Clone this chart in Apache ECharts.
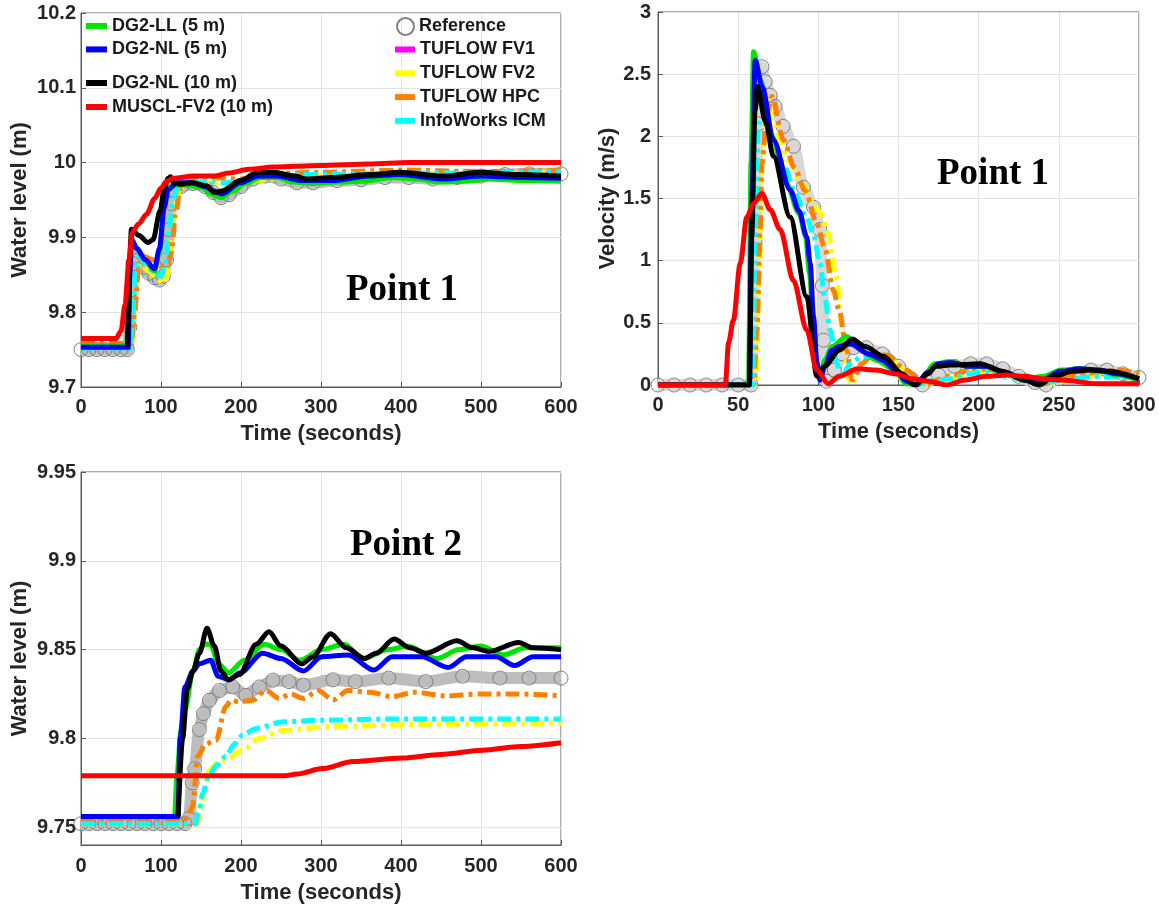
<!DOCTYPE html>
<html>
<head>
<meta charset="utf-8">
<title>Point 1 / Point 2 water level and velocity</title>
<script src="https://cdn.jsdelivr.net/npm/echarts@6/dist/echarts.min.js"></script>
<style>
    html, body { margin: 0; padding: 0; background: #fff; }
    #chart { width: 1159px; height: 911px; }
</style>
</head>
<body>
<div id="chart"></div>
<script>
// series names (legend order)
const NAMES = ['Reference', 'TUFLOW FV1', 'TUFLOW FV2', 'TUFLOW HPC', 'InfoWorks ICM',
    'DG2-LL (5 m)', 'DG2-NL (5 m)', 'DG2-NL (10 m)', 'MUSCL-FV2 (10 m)'];

// ---- Point 1, water level (m) vs time (s)
const wl1_ref = [[0, 9.75], [10, 9.75], [20, 9.75], [30, 9.75], [40, 9.75], [50, 9.75], [58, 9.75], [61, 9.78], [63, 9.83], [65, 9.865], [68, 9.875], [72, 9.87], [78, 9.86], [85, 9.852], [92, 9.846], [98, 9.843], [103, 9.848], [107, 9.87], [110, 9.91], [113, 9.945], [117, 9.962], [125, 9.968], [140, 9.972], [155, 9.968], [165, 9.96], [175, 9.953], [185, 9.957], [200, 9.968], [215, 9.978], [230, 9.982], [250, 9.978], [270, 9.973], [290, 9.973], [320, 9.976], [350, 9.977], [380, 9.98], [410, 9.98], [440, 9.978], [470, 9.98], [500, 9.982], [530, 9.984], [560, 9.985], [600, 9.985]];
const wl1_fv1 = [];
const wl1_fv2 = [[0, 9.755], [64, 9.755], [67, 9.80], [70, 9.85], [74, 9.865], [85, 9.855], [95, 9.845], [103, 9.838], [108, 9.85], [113, 9.9], [118, 9.945], [124, 9.965], [135, 9.972], [150, 9.975], [175, 9.973], [200, 9.972], [220, 9.976], [250, 9.98], [300, 9.983], [400, 9.985], [500, 9.986], [600, 9.987]];
const wl1_hpc = [[0, 9.758], [63, 9.758], [67, 9.80], [72, 9.86], [78, 9.875], [90, 9.87], [100, 9.862], [108, 9.862], [113, 9.88], [118, 9.93], [124, 9.965], [135, 9.975], [160, 9.98], [200, 9.978], [230, 9.985], [300, 9.987], [400, 9.99], [500, 9.988], [600, 9.99]];
const wl1_icm = [[0, 9.752], [62, 9.752], [65, 9.80], [68, 9.86], [72, 9.875], [80, 9.865], [90, 9.855], [100, 9.848], [105, 9.86], [110, 9.91], [115, 9.95], [120, 9.965], [135, 9.972], [160, 9.975], [180, 9.973], [210, 9.978], [240, 9.982], [280, 9.984], [350, 9.985], [450, 9.986], [600, 9.988]];
const wl1_ll5 = [[0, 9.755], [57, 9.755], [60, 9.85], [62, 9.895], [70, 9.885], [80, 9.87], [92, 9.855], [98, 9.88], [104, 9.94], [108, 9.965], [115, 9.97], [130, 9.97], [150, 9.967], [165, 9.957], [175, 9.953], [190, 9.962], [205, 9.972], [225, 9.98], [245, 9.98], [265, 9.974], [290, 9.972], [320, 9.974], [350, 9.975], [390, 9.98], [420, 9.978], [450, 9.974], [480, 9.975], [510, 9.978], [550, 9.976], [600, 9.975]];
const wl1_nl5 = [[0, 9.753], [59, 9.753], [61, 9.85], [63, 9.898], [70, 9.885], [80, 9.87], [92, 9.858], [98, 9.885], [104, 9.94], [109, 9.964], [120, 9.973], [139, 9.973], [155, 9.968], [166, 9.962], [176, 9.958], [199, 9.973], [222, 9.982], [245, 9.982], [277, 9.976], [314, 9.976], [361, 9.982], [398, 9.984], [453, 9.978], [500, 9.982], [550, 9.98], [600, 9.979]];
// flat start of this run is hidden behind the 5 m run, so it is drawn from the rise on
const wl1_nl10 = [[58, 9.754], [59.5, 9.8], [61, 9.87], [63, 9.911], [72, 9.903], [84, 9.893], [90, 9.897], [99, 9.936], [104, 9.965], [109, 9.979], [112, 9.981], [116, 9.973], [125, 9.971], [139, 9.973], [157, 9.969], [167, 9.96], [176, 9.962], [199, 9.976], [222, 9.987], [240, 9.987], [268, 9.982], [282, 9.978], [314, 9.98], [361, 9.984], [398, 9.987], [453, 9.982], [500, 9.987], [546, 9.984], [600, 9.982]];
const wl1_muscl = [[0, 9.765], [44, 9.765], [50, 9.775], [55, 9.81], [60, 9.87], [64, 9.907], [72, 9.918], [82, 9.931], [92, 9.952], [100, 9.966], [107, 9.975], [115, 9.979], [140, 9.982], [166, 9.982], [185, 9.986], [210, 9.991], [240, 9.994], [300, 9.996], [360, 9.998], [410, 10.0], [600, 10.0]];

// ---- Point 1, velocity (m/s) vs time (s)
const v1_ref = [[0, 0], [10, 0], [20, 0], [30, 0], [40, 0], [50, 0], [58, 0], [60.6, 1.14], [62.5, 2.1], [64.8, 2.56], [66.8, 2.44], [70, 2.33], [73.1, 2.24], [78, 2.08], [84.5, 1.92], [90.7, 1.59], [97, 1.43], [101, 1.25], [102.5, 0.8], [103.2, 0.36], [105, 0.03], [110, 0.12], [115, 0.25], [122, 0.3], [130, 0.3], [140, 0.25], [150, 0.15], [158, 0.05], [165, 0.0], [175, 0.08], [185, 0.15], [195, 0.17], [205, 0.17], [215, 0.13], [225, 0.07], [235, 0.02], [242, 0.0], [250, 0.05], [260, 0.09], [270, 0.12], [280, 0.12], [290, 0.09], [300, 0.06]];
const v1_fv1 = [];
const v1_fv2 = [[0, 0], [61, 0], [63, 0.8], [65, 1.8], [68, 2.3], [72, 2.1], [76, 1.97], [81, 1.81], [90, 1.62], [96, 1.48], [101.5, 1.38], [106, 1.22], [110.8, 0.9], [115.4, 0.42], [119, 0.05], [121, 0.01], [127, 0.17], [134, 0.23], [143, 0.22], [155, 0.12], [165, 0.02], [180, 0.04], [195, 0.1], [205, 0.12], [217, 0.08], [235, 0.02], [245, 0.01], [260, 0.05], [275, 0.08], [290, 0.08], [300, 0.06]];
const v1_hpc = [[0, 0], [59.6, 0], [61.7, 0.44], [63.7, 1.25], [64.8, 1.78], [67.9, 2.19], [71, 2.32], [78.3, 1.97], [85, 1.75], [92, 1.56], [99, 1.3], [104, 1.1], [109.4, 0.76], [113, 0.6], [117.7, 0.28], [121, 0.04], [127, 0.17], [134, 0.25], [143, 0.24], [154.6, 0.12], [166, 0.01], [182, 0.07], [194, 0.12], [205, 0.13], [217, 0.09], [230, 0.05], [240, 0.01], [252, 0.05], [263, 0.09], [286, 0.12], [300, 0.09]];
const v1_icm = [[0, 0], [59, 0], [60.6, 1.25], [62.7, 2.1], [66, 2.15], [72, 1.97], [78.3, 1.78], [85.4, 1.55], [92.8, 1.35], [97, 1.2], [101, 0.98], [104, 0.7], [107.4, 0.44], [111.5, 0.18], [114, 0.06], [120, 0.17], [127, 0.23], [134, 0.23], [145, 0.15], [154.6, 0.07], [164, 0.01], [173, 0.04], [182, 0.05], [194, 0.09], [205, 0.11], [217, 0.07], [230, 0.03], [240, 0.01], [251.5, 0.04], [274.6, 0.07], [300, 0.05]];
const v1_ll5 = [[0, 0], [56.5, 0], [58, 1.8], [59.6, 2.68], [64, 2.45], [71, 2.0], [80, 1.62], [88, 1.38], [92, 1.2], [94.5, 0.9], [97, 0.45], [99.5, 0.1], [101, 0.04], [104, 0.2], [108.5, 0.31], [117.7, 0.39], [127, 0.28], [136, 0.2], [147.7, 0.12], [154.6, 0.01], [161.5, 0.0], [173, 0.17], [182, 0.19], [194, 0.15], [205, 0.15], [217, 0.09], [228.5, 0.04], [240, 0.07], [251.5, 0.12], [263, 0.13], [274.6, 0.12], [286, 0.08], [300, 0.04]];
const v1_nl5 = [[0, 0], [57, 0], [58.5, 1.5], [60.6, 2.61], [65, 2.4], [72, 1.97], [82.4, 1.57], [88, 1.4], [92.8, 1.19], [94.9, 0.98], [97, 0.55], [99.1, 0.18], [101, 0.04], [104, 0.15], [108.5, 0.28], [113, 0.31], [120, 0.33], [131.5, 0.25], [140, 0.2], [148, 0.12], [155, 0.03], [161, 0.0], [168, 0.1], [175, 0.17], [182, 0.18], [194, 0.15], [205, 0.15], [217, 0.1], [228.5, 0.04], [238, 0.03], [251.5, 0.11], [263, 0.13], [275, 0.12], [286, 0.09], [300, 0.05]];
const v1_nl10 = [[0, 0], [57, 0], [58.5, 1.2], [60.5, 2.2], [62, 2.4], [67, 2.12], [72, 1.84], [82.4, 1.35], [92.8, 0.71], [99.1, 0.07], [104, 0.15], [113, 0.28], [121, 0.37], [129, 0.31], [140.8, 0.23], [152.3, 0.09], [160, 0.0], [168.5, 0.09], [173, 0.15], [182, 0.16], [200.8, 0.17], [214.6, 0.11], [228.5, 0.04], [237.7, 0.0], [247, 0.07], [258.5, 0.11], [270, 0.12], [281.5, 0.11], [300, 0.05]];
const v1_muscl = [[0, 0], [42, 0], [44, 0.34], [47, 0.52], [51.3, 0.98], [55.4, 1.35], [59.6, 1.46], [64.8, 1.54], [70, 1.41], [76.2, 1.25], [84.5, 0.84], [92.8, 0.44], [99.1, 0.12], [106.3, 0.01], [113, 0.07], [124.6, 0.13], [136, 0.12], [147.7, 0.09], [159, 0.05], [168.5, 0.03], [180, 0.0], [191.5, 0.04], [205, 0.07], [217, 0.08], [228.5, 0.07], [240, 0.05], [251.5, 0.04], [274.6, 0.01], [300, 0.01]];

// ---- Point 2, water level (m) vs time (s)
const wl2_ref = [[0, 9.752], [10, 9.752], [20, 9.752], [30, 9.752], [40, 9.752], [50, 9.752], [60, 9.752], [70, 9.752], [80, 9.752], [90, 9.752], [100, 9.752], [110, 9.752], [120, 9.752], [130, 9.752], [135, 9.755], [139, 9.775], [142, 9.783], [148, 9.805], [153, 9.814], [160.5, 9.8215], [173, 9.827], [189.7, 9.829], [206, 9.8243], [223, 9.829], [240, 9.8328], [260, 9.832], [278, 9.83], [315, 9.833], [343, 9.832], [384.6, 9.834], [431, 9.832], [477, 9.835], [523.6, 9.834], [560, 9.834], [600, 9.834]];
const wl2_fv1 = [];
const wl2_fv2 = [[0, 9.752], [145, 9.752], [150, 9.762], [155, 9.772], [160.5, 9.782], [170, 9.786], [181, 9.788], [202, 9.7934], [223, 9.8], [252, 9.8045], [315, 9.8068], [440, 9.808], [600, 9.8084]];
const wl2_hpc = [[0, 9.754], [128, 9.754], [134, 9.756], [139.6, 9.762], [145.9, 9.79], [156, 9.797], [168.8, 9.799], [181, 9.818], [187.6, 9.8215], [198, 9.8206], [214.7, 9.8215], [231, 9.827], [248, 9.8225], [262, 9.825], [278, 9.8225], [296.6, 9.827], [315, 9.8216], [333.6, 9.827], [361, 9.826], [389, 9.8235], [417, 9.826], [454, 9.824], [500, 9.825], [546.8, 9.825], [600, 9.824]];
const wl2_icm = [[0, 9.752], [143, 9.752], [147, 9.758], [152, 9.769], [160.5, 9.78], [170, 9.785], [181, 9.79], [192, 9.797], [202, 9.802], [219, 9.8056], [252, 9.8094], [300, 9.8103], [400, 9.811], [600, 9.811]];
const wl2_ll5 = [[0, 9.756], [117, 9.756], [120, 9.78], [125, 9.805], [130, 9.816], [140, 9.838], [148, 9.85], [155, 9.853], [162, 9.853], [171.5, 9.842], [185, 9.837], [204, 9.844], [229, 9.853], [250, 9.85], [273, 9.844], [301, 9.85], [329, 9.853], [352, 9.845], [384.6, 9.85], [408, 9.852], [445, 9.845], [472.6, 9.85], [500, 9.852], [528, 9.847], [556, 9.851], [600, 9.851]];
const wl2_nl5 = [[0, 9.756], [121, 9.756], [124, 9.8], [130, 9.829], [140, 9.838], [148, 9.842], [162, 9.844], [171.5, 9.835], [185, 9.833], [199, 9.837], [227, 9.848], [250, 9.845], [278, 9.838], [301, 9.846], [334, 9.847], [366, 9.8385], [389, 9.846], [426, 9.846], [459, 9.84], [482, 9.846], [519, 9.846], [542, 9.841], [565, 9.846], [600, 9.846]];
const wl2_nl10 = [[121.5, 9.756], [127, 9.8], [133, 9.828], [140, 9.838], [148, 9.848], [157.5, 9.862], [166.7, 9.852], [175, 9.838], [184, 9.833], [198, 9.836], [219, 9.853], [235, 9.86], [250, 9.852], [275.7, 9.842], [290, 9.846], [312, 9.859], [331.5, 9.851], [354.5, 9.845], [369, 9.848], [391.5, 9.856], [411, 9.851], [431, 9.848], [470, 9.855], [490, 9.851], [510, 9.849], [547, 9.854], [565, 9.851], [600, 9.85]];
const wl2_muscl = [[0, 9.779], [255, 9.779], [270, 9.78], [301.6, 9.783], [340, 9.787], [401.7, 9.789], [450, 9.791], [502, 9.7934], [550, 9.7955], [600, 9.7976]];

// tick values
const wlTicks1 = [9.7, 9.8, 9.9, 10, 10.1, 10.2];
const velTicks = [0, 0.5, 1, 1.5, 2, 2.5, 3];
const wlTicks2 = [9.75, 9.8, 9.85, 9.9, 9.95];

// line looks per series
const LOOK = {
    'Reference':        { color: '#808080' },
    'TUFLOW FV1':       { color: '#ff00ff', width: 5 },
    'TUFLOW FV2':       { color: '#ffff00', width: 5, dash: [14, 5, 4, 5] },
    'TUFLOW HPC':       { color: '#ff8000', width: 5, dash: [14, 5, 4, 5] },
    'InfoWorks ICM':    { color: '#00ffff', width: 5, dash: [14, 5, 4, 5] },
    'DG2-LL (5 m)':     { color: '#00e600', width: 5 },
    'DG2-NL (5 m)':     { color: '#0000ff', width: 5 },
    'DG2-NL (10 m)':    { color: '#000000', width: 5 },
    'MUSCL-FV2 (10 m)': { color: '#ff0000', width: 5 }
};
// grey band under the reference circles, per panel
const REF_BAND = ['#bdbdbd', '#d8d8d8', '#bdbdbd'];

const FONT = 'Liberation Sans, Arial, sans-serif';
const SERIF = 'Liberation Serif, Times New Roman, serif';

function make_series(name, data, idx) {
    const look = LOOK[name];
    if (name === 'Reference') {
        return {
            name: name, type: 'line', xAxisIndex: idx, yAxisIndex: idx, data: data, z: 1,
            symbol: 'circle', symbolSize: 14, showSymbol: true, smooth: 0.3, smoothMonotone: 'x',
            lineStyle: { color: REF_BAND[idx], width: 12 },
            itemStyle: { color: 'transparent', borderColor: look.color, borderWidth: 1 },
            silent: true, emphasis: { disabled: true }
        };
    }
    return {
        name: name, type: 'line', xAxisIndex: idx, yAxisIndex: idx, data: data, z: 2,
        symbol: 'none', smooth: 0.3, smoothMonotone: 'x',
        lineStyle: { color: look.color, width: look.width, type: look.dash || 'solid', cap: 'butt' },
        itemStyle: { color: look.color },
        silent: true, emphasis: { disabled: true }
    };
}

function tick_text(v) {
    return String(Math.round(v * 100) / 100);
}

function make_x(idx, max, interval, gap, margin) {
    return {
        type: 'value', gridIndex: idx, min: 0, max: max, interval: interval,
        name: 'Time (seconds)', nameLocation: 'middle', nameGap: gap,
        nameTextStyle: { fontSize: 22, fontWeight: 'bold', color: '#262626', fontFamily: FONT },
        axisLine: { onZero: false, lineStyle: { color: '#5a5a5a', width: 1 } },
        axisTick: { inside: true, length: 5, lineStyle: { color: '#5a5a5a' } },
        axisLabel: { fontSize: 20, fontWeight: 'bold', color: '#262626', fontFamily: FONT, margin: margin, formatter: tick_text },
        splitLine: { show: true, lineStyle: { color: '#e3e3e3', width: 1 } }
    };
}

function make_y(idx, name, min, max, ticks, gap, margin) {
    const axis = {
        type: 'value', gridIndex: idx, min: min, max: max,
        name: name, nameLocation: 'middle', nameGap: gap,
        nameTextStyle: { fontSize: 22, fontWeight: 'bold', color: '#262626', fontFamily: FONT },
        axisLine: { show: true, onZero: false, lineStyle: { color: '#5a5a5a', width: 1 } },
        axisTick: { show: true, inside: true, length: 5, lineStyle: { color: '#5a5a5a' } },
        axisLabel: { fontSize: 20, fontWeight: 'bold', color: '#262626', fontFamily: FONT, margin: margin, formatter: tick_text },
        splitLine: { show: true, lineStyle: { color: '#e3e3e3', width: 1 } }
    };
    if (min === ticks[0]) {
        axis.interval = Math.round((ticks[1] - ticks[0]) * 100) / 100;
    } else {
        // axis starts below the first tick, so place ticks/labels explicitly
        axis.axisTick.customValues = ticks;
        axis.axisLabel.customValues = ticks;
    }
    return axis;
}

function point_label(text, left, top) {
    return {
        type: 'text', left: left, top: top, silent: true, z: 100,
        style: { text: text, font: 'bold 37px ' + SERIF, fill: '#000' }
    };
}

const panels = [
    [wl1_ref, wl1_fv1, wl1_fv2, wl1_hpc, wl1_icm, wl1_ll5, wl1_nl5, wl1_nl10, wl1_muscl],
    [v1_ref, v1_fv1, v1_fv2, v1_hpc, v1_icm, v1_ll5, v1_nl5, v1_nl10, v1_muscl],
    [wl2_ref, wl2_fv1, wl2_fv2, wl2_hpc, wl2_icm, wl2_ll5, wl2_nl5, wl2_nl10, wl2_muscl]
];

let series = [];
panels.forEach(function (list, idx) {
    list.forEach(function (data, k) {
        series.push(make_series(NAMES[k], data, idx));
    });
});

const legendText = { fontSize: 18, fontWeight: 'bold', color: '#1a1a1a', fontFamily: FONT, lineHeight: 18 };
function make_legend(names, left, top, w, h, gap, icon) {
    return {
        orient: 'vertical', left: left, top: top, padding: 0,
        itemWidth: w, itemHeight: h, itemGap: gap, selectedMode: false,
        textStyle: legendText,
        data: names.map(function (n) { return { name: n, icon: icon }; })
    };
}

const gridStyle = { show: true, borderColor: '#5a5a5a', borderWidth: 1, backgroundColor: '#fff', containLabel: false };

let myChart = echarts.init(document.getElementById('chart'), null, { renderer: 'canvas' });
myChart.setOption({
    animation: false,
    backgroundColor: '#fff',
    grid: [
        Object.assign({ left: 81, top: 13, width: 480, height: 374 }, gridStyle),
        Object.assign({ left: 658, top: 12, width: 481, height: 373 }, gridStyle),
        Object.assign({ left: 81, top: 472, width: 480, height: 373 }, gridStyle)
    ],
    xAxis: [
        make_x(0, 600, 100, 36, 10),
        make_x(1, 300, 50, 36, 10),
        make_x(2, 600, 100, 37, 11)
    ],
    yAxis: [
        make_y(0, 'Water level (m)', 9.7, 10.2, wlTicks1, 50, 5),
        make_y(1, 'Velocity (m/s)', 0, 3, velTicks, 39, 7),
        make_y(2, 'Water level (m)', 9.74, 9.95, wlTicks2, 50, 5)
    ],
    legend: [
        make_legend(['DG2-LL (5 m)', 'DG2-NL (5 m)'], 86, 17, 21, 6, 5.4, 'rect'),
        make_legend(['DG2-NL (10 m)', 'MUSCL-FV2 (10 m)'], 86, 74, 21, 6, 6, 'rect'),
        make_legend(['Reference'], 396, 17, 17, 17, 5, 'circle'),
        make_legend(['TUFLOW FV1', 'TUFLOW FV2', 'TUFLOW HPC', 'InfoWorks ICM'], 395, 40.5, 20, 6, 5.8, 'rect')
    ],
    graphic: [
        point_label('Point 1', 346, 272),
        point_label('Point 1', 937, 156),
        point_label('Point 2', 350, 527)
    ],
    series: series
});
</script>
</body>
</html>
